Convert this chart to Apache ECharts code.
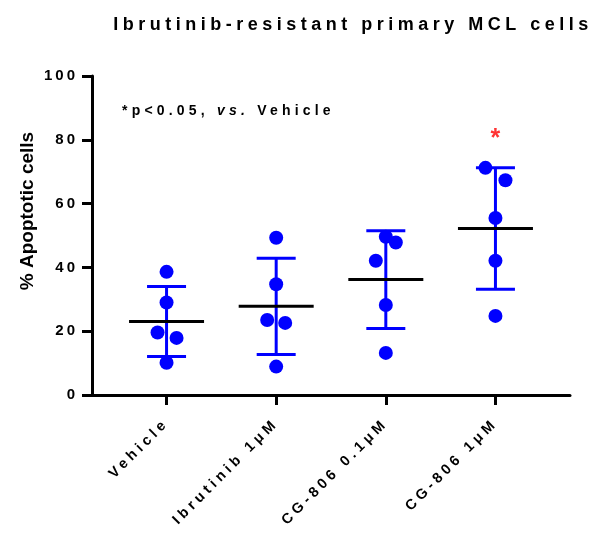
<!DOCTYPE html>
<html><head><meta charset="utf-8">
<script src="https://cdn.jsdelivr.net/npm/echarts@6/dist/echarts.min.js"></script>
<style>html,body{margin:0;padding:0;background:#fff}#c{width:608px;height:535px}</style>
</head><body><div id="c"></div><script>
// ---- data ----
const categories = ['Vehicle', 'Ibrutinib 1μM', 'CG-806 0.1μM', 'CG-806 1μM'];
const vehicle = [38.6, 29.0, 19.6, 17.9, 10.1];
const ibrutinib1uM = [49.3, 34.7, 23.5, 22.6, 8.9];
const cg806_01uM = [49.6, 47.8, 42.1, 28.2, 13.2];
const cg806_1uM = [71.2, 67.3, 55.5, 42.1, 24.8];
const yTicks = [0, 20, 40, 60, 80, 100];
const significant = [false, false, false, true];
const titleText = 'Ibrutinib-resistant primary MCL cells';
const yAxisTitle = '% Apoptotic cells';

// ---- styling (not data) ----
const jitterPx = [[0, 0, -9, 10, 0], [0, 0, -9, 9, 0], [0, 10, -10, 0, 0], [-10, 10, 0, 0, 0]];
const BLUE = '#0000ff';
const FONT = '"Liberation Sans", Arial, sans-serif';
// wide letter spacing of the original (GraphPad style), keyed by font size
const spacingBySize = { '18': 4.5, '15': 3, '14': 4.2, '14.5': 4 };
(function () {
  const P = CanvasRenderingContext2D.prototype;
  const desc = Object.getOwnPropertyDescriptor(P, 'font');
  if (!desc || !('letterSpacing' in P)) return;
  Object.defineProperty(P, 'font', {
    configurable: true,
    get() { return desc.get.call(this); },
    set(v) {
      desc.set.call(this, v);
      const m = /(\d+(?:\.\d+)?)px/.exec(v);
      const sp = m && spacingBySize[m[1]] ? spacingBySize[m[1]] : 0;
      this.letterSpacing = sp + 'px';
    }
  });
})();

const groups = [vehicle, ibrutinib1uM, cg806_01uM, cg806_1uM];
function mean(a) { return a.reduce((s, v) => s + v, 0) / a.length; }
function sd(a) { const m = mean(a); return Math.sqrt(a.reduce((s, v) => s + (v - m) * (v - m), 0) / (a.length - 1)); }

const pointData = [];
groups.forEach((g, i) => g.forEach((v, j) => pointData.push({ value: [i + 1, v], symbolOffset: [jitterPx[i][j], 0] })));
const statData = groups.map((g, i) => [i + 1, mean(g), sd(g)]);
const starData = groups.map((g, i) => significant[i] ? [i + 1, Math.max(...g)] : null).filter(Boolean);

const chart = echarts.init(document.getElementById('c'), null, { renderer: 'canvas' });
chart.setOption({
  animation: false,
  backgroundColor: '#fff',
  title: {
    text: titleText, left: 348, top: 9, textAlign: 'center',
    textStyle: { fontFamily: FONT, fontSize: 18, fontWeight: 'bold', color: '#000' }
  },
  graphic: [
    {
      type: 'text', left: 122, top: 102,
      style: {
        text: '{a|*p<0.05, }{b|vs.}{a| Vehicle}',
        rich: {
          a: { fontFamily: FONT, fontSize: 14, fontWeight: 'bold', fill: '#000' },
          b: { fontFamily: FONT, fontSize: 14, fontWeight: 'bold', fontStyle: 'italic', fill: '#000' }
        }
      }
    },
    {
      type: 'text', x: 28, y: 211, rotation: Math.PI / 2,
      style: { text: yAxisTitle, fontFamily: FONT, fontSize: 19, fontWeight: 'bold', fill: '#000', align: 'center', verticalAlign: 'middle' }
    }
  ],
  grid: { left: 92, right: 38, top: 76, bottom: 140 },
  xAxis: {
    type: 'value', min: 0.32, max: 4.68,
    splitLine: { show: false },
    axisLine: { show: true, lineStyle: { color: '#000', width: 3 } },
    axisTick: { show: true, customValues: [1, 2, 3, 4], length: 10, lineStyle: { color: '#000', width: 3 } },
    axisLabel: {
      customValues: [1, 2, 3, 4], rotate: 45, margin: 26,
      formatter: v => categories[Math.round(v) - 1] || '',
      fontFamily: FONT, fontSize: 14.5, fontWeight: 'bold', color: '#000'
    }
  },
  yAxis: {
    type: 'value', min: 0, max: 100, interval: 20,
    splitLine: { show: false },
    axisLine: { show: true, lineStyle: { color: '#000', width: 3 } },
    axisTick: { show: true, length: 10, lineStyle: { color: '#000', width: 3 } },
    axisLabel: {
      margin: 14, fontFamily: FONT, fontSize: 15, fontWeight: 'bold', color: '#000',
      formatter: v => yTicks.includes(v) ? String(v) : ''
    }
  },
  series: [
    {
      type: 'custom', z: 2, data: statData,
      renderItem(params, api) {
        const x = api.value(0), m = api.value(1), s = api.value(2);
        const c = api.coord([x, m]), t = api.coord([x, m + s]), b = api.coord([x, m - s]);
        const st = { stroke: BLUE, lineWidth: 3 };
        return {
          type: 'group', children: [
            { type: 'line', shape: { x1: c[0], y1: t[1], x2: c[0], y2: b[1] }, style: st },
            { type: 'line', shape: { x1: c[0] - 19.5, y1: t[1], x2: c[0] + 19.5, y2: t[1] }, style: st },
            { type: 'line', shape: { x1: c[0] - 19.5, y1: b[1], x2: c[0] + 19.5, y2: b[1] }, style: st }
          ]
        };
      }
    },
    {
      type: 'scatter', z: 3, data: pointData, symbol: 'circle', symbolSize: 14,
      itemStyle: { color: BLUE, opacity: 1 }
    },
    {
      type: 'custom', z: 4, data: statData,
      renderItem(params, api) {
        const c = api.coord([api.value(0), api.value(1)]);
        return { type: 'line', shape: { x1: c[0] - 37.5, y1: c[1], x2: c[0] + 37.5, y2: c[1] }, style: { stroke: '#000', lineWidth: 3 } };
      }
    },
    {
      type: 'scatter', z: 5, data: starData, symbolSize: 0, silent: true,
      label: { show: true, position: 'top', distance: 16, formatter: '*', color: '#ff0000', fontFamily: FONT, fontSize: 25, fontWeight: 'bold' }
    }
  ]
});
</script></body></html>
